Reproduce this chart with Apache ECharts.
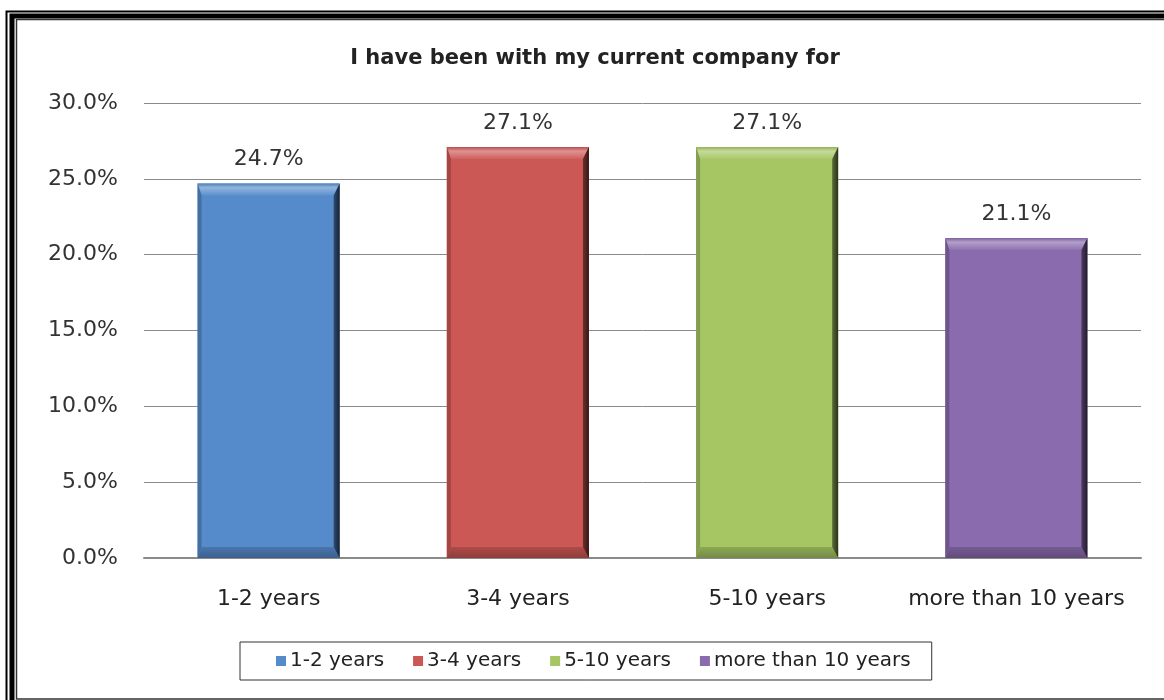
<!DOCTYPE html>
<html>
<head>
<meta charset="utf-8">
<script src="https://cdn.jsdelivr.net/npm/echarts@6/dist/echarts.min.js"></script>
<style>
  html, body { margin: 0; padding: 0; background: #fff; }
  #main { width: 1164px; height: 700px; }
</style>
</head>
<body>
<div id="main"></div>
<script>
var categories = ['1-2 years', '3-4 years', '5-10 years', 'more than 10 years'];
var values = [24.7, 27.1, 27.1, 21.1];
var colors = ['#568bcb', '#cc5855', '#a5c663', '#8a6bae'];
var yTicks = [0, 5, 10, 15, 20, 25, 30];

var FONT = 'DejaVu Sans';

// mix a hex colour toward white (t>0) or black (t<0)
function shade(hex, t) {
    var n = parseInt(hex.slice(1), 16);
    var c = [(n >> 16) & 255, (n >> 8) & 255, n & 255].map(function (v) {
        v = t > 0 ? v + (255 - v) * t : v * (1 + t);
        return Math.round(v);
    });
    return 'rgb(' + c.join(',') + ')';
}

var chart = echarts.init(document.getElementById('main'));

var series = categories.map(function (name, i) {
    var data = categories.map(function (c, j) { return j === i ? values[i] : null; });
    return {
        name: name,
        type: 'bar',
        barWidth: '57%',
        barGap: '-100%',
        data: data,
        itemStyle: { color: colors[i] },
        label: {
            show: true,
            position: 'top',
            distance: 13,
            fontSize: 22,
            color: '#333',
            fontFamily: FONT,
            formatter: function (p) { return p.value.toFixed(1) + '%'; }
        }
    };
});

// bevel edges drawn over the bars
series.push({
    name: 'bevel',
    type: 'custom',
    z: 5,
    silent: true,
    data: values.map(function (v, i) { return [i, v]; }),
    renderItem: function (params, api) {
        var i = api.value(0);
        var top = api.coord([i, api.value(1)]);
        var bot = api.coord([i, 0]);
        var w = api.size([1, 0])[0] * 0.57;
        var x0 = top[0] - w / 2, x1 = top[0] + w / 2;
        var y0 = top[1], y1 = bot[1];
        var bl = 4, br = 6, bt = 12, bb = 11;
        var c = colors[i];
        return {
            type: 'group',
            children: [
                { type: 'polygon', shape: { points: [[x0, y0], [x1, y0], [x1 - br, y0 + bt], [x0 + bl, y0 + bt]] },
                  style: { fill: new echarts.graphic.LinearGradient(0, 0, 0, 1, [
                      { offset: 0, color: shade(c, -0.1) }, { offset: 0.35, color: shade(c, 0.35) }, { offset: 1, color: shade(c, 0.05) }]) } },
                { type: 'polygon', shape: { points: [[x0, y0], [x0 + bl, y0 + bt], [x0 + bl, y1 - bb], [x0, y1]] },
                  style: { fill: shade(c, -0.2) } },
                { type: 'polygon', shape: { points: [[x0, y1], [x1, y1], [x1 - br, y1 - bb], [x0 + bl, y1 - bb]] },
                  style: { fill: new echarts.graphic.LinearGradient(0, 0, 0, 1, [
                      { offset: 0, color: shade(c, -0.15) }, { offset: 1, color: shade(c, -0.3) }]) } },
                { type: 'polygon', shape: { points: [[x1, y0], [x1, y1], [x1 - br, y1 - bb], [x1 - br, y0 + bt]] },
                  style: { fill: new echarts.graphic.LinearGradient(0, 0, 1, 0, [
                      { offset: 0, color: shade(c, -0.45) }, { offset: 1, color: shade(c, -0.75) }]) } }
            ]
        };
    }
});

var option = {
    backgroundColor: '#fff',
    animation: false,
    textStyle: { fontFamily: FONT },
    title: {
        text: 'I have been with my current company for',
        left: 590,
        textAlign: 'center',
        top: 43,
        textStyle: { fontSize: 21, fontWeight: 'bold', color: '#222', fontFamily: FONT }
    },
    legend: {
        data: categories,
        left: 240,
        top: 642,
        padding: [9, 21, 9, 36],
        itemGap: 29,
        itemWidth: 10,
        itemHeight: 10,
        icon: 'rect',
        borderColor: '#333',
        borderWidth: 1,
        textStyle: { fontSize: 20, color: '#222', fontFamily: FONT, padding: [0, 0, 0, -1] }
    },
    grid: { left: 144, right: 23, top: 103, bottom: 142 },
    xAxis: {
        type: 'category',
        data: categories,
        axisLine: { lineStyle: { color: '#8a8a8a', width: 2 } },
        axisTick: { show: false },
        axisLabel: { interval: 0, fontSize: 22, color: '#222', margin: 30, fontFamily: FONT }
    },
    yAxis: {
        type: 'value',
        min: yTicks[0],
        max: yTicks[yTicks.length - 1],
        interval: 5,
        axisLine: { show: false },
        axisTick: { show: false },
        splitLine: { lineStyle: { color: '#8a8a8a', width: 1 } },
        axisLabel: {
            fontSize: 22, color: '#333', margin: 26, fontFamily: FONT,
            formatter: function (v) { return v.toFixed(1) + '%'; }
        }
    },
    graphic: [
        { type: 'polyline', shape: { points: [[6.5, 720], [6.5, 11.5], [1180, 11.5]] }, style: { stroke: '#000', lineWidth: 2, fill: null } },
        { type: 'polyline', shape: { points: [[12, 720], [12, 16], [1180, 16]] }, style: { stroke: '#000', lineWidth: 5, fill: null } },
        { type: 'polyline', shape: { points: [[1180, 699], [16.5, 699], [16.5, 19.5], [1180, 19.5]] }, style: { stroke: '#333', lineWidth: 1.5, fill: null } }
    ],
    series: series
};

chart.setOption(option);
</script>
</body>
</html>
